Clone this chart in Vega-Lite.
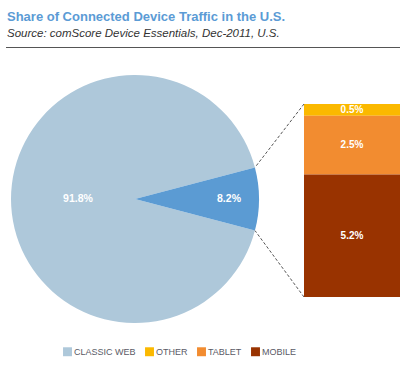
{
  "$schema": "https://vega.github.io/schema/vega-lite/v6.json",
  "width": 407,
  "height": 327,
  "autosize": "none",
  "padding": {"left": 0, "right": 0, "top": 44, "bottom": 0},
  "background": "white",
  "config": {"view": {"stroke": null}, "font": "Liberation Sans"},
  "title": {
    "text": "Share of Connected Device Traffic in the U.S.",
    "subtitle": "Source: comScore Device Essentials, Dec-2011, U.S.",
    "anchor": "start",
    "frame": "group",
    "dx": 7,
    "offset": 5,
    "font": "Liberation Sans",
    "fontSize": 13,
    "fontWeight": "bold",
    "color": "#5b9bd5",
    "subtitleFont": "Liberation Sans",
    "subtitleFontSize": 11.5,
    "subtitleFontStyle": "italic",
    "subtitleColor": "#333333",
    "subtitlePadding": 4
  },
  "layer": [
    {
      "data": {"values": [{}]},
      "mark": {"type": "rule", "color": "#555555", "strokeWidth": 1},
      "encoding": {"x": {"value": 6}, "x2": {"value": 400}, "y": {"value": 3.5}}
    },
    {
      "data": {"values": [
        {"segment": "CLASSIC WEB", "value": 91.8, "label": "91.8%"},
        {"segment": "CONNECTED", "value": 8.2, "label": "8.2%"}
      ]},
      "mark": {"type": "arc", "radius": 124},
      "encoding": {
        "theta": {"field": "value", "type": "quantitative", "stack": true, "scale": {"range": [1.3132, 7.5964]}},
        "order": {"field": "value", "sort": "ascending"},
        "x": {"value": 135},
        "y": {"value": 155},
        "color": {
          "field": "segment", "type": "nominal",
          "scale": {
            "domain": ["CLASSIC WEB", "CONNECTED", "OTHER", "TABLET", "MOBILE"],
            "range": ["#aec8da", "#5b9bd3", "#fbb900", "#f28c30", "#993300"]
          },
          "legend": {
            "values": ["CLASSIC WEB", "OTHER", "TABLET", "MOBILE"],
            "title": null,
            "orient": "none",
            "direction": "horizontal",
            "legendX": 63,
            "legendY": 303,
            "symbolType": "square",
            "symbolSize": 80,
            "symbolStrokeWidth": 0,
            "labelFont": "Liberation Sans",
            "labelFontSize": 9,
            "labelColor": "#5a5a66",
            "labelOffset": 2,
            "columnPadding": 9,
            "padding": 0
          }
        }
      }
    },
    {
      "data": {"values": [{"label": "91.8%"}]},
      "mark": {"type": "text", "color": "white", "fontWeight": "bold", "fontSize": 10.5, "baseline": "middle", "align": "center"},
      "encoding": {"x": {"value": 78}, "y": {"value": 155}, "text": {"field": "label"}}
    },
    {
      "data": {"values": [{"label": "8.2%"}]},
      "mark": {"type": "text", "color": "white", "fontWeight": "bold", "fontSize": 10.5, "baseline": "middle", "align": "center"},
      "encoding": {"x": {"value": 229}, "y": {"value": 155}, "text": {"field": "label"}}
    },
    {
      "data": {"values": [
        {"segment": "OTHER", "value": 0.5, "label": "0.5%"},
        {"segment": "TABLET", "value": 2.5, "label": "2.5%"},
        {"segment": "MOBILE", "value": 5.2, "label": "5.2%"}
      ]},
      "transform": [
        {"stack": "value", "groupby": [], "sort": [{"field": "value", "order": "descending"}], "as": ["v0", "v1"]}
      ],
      "layer": [
        {
          "mark": {"type": "bar", "orient": "vertical"},
          "encoding": {
            "x": {"value": 304},
            "x2": {"value": 400},
            "y": {"field": "v0", "type": "quantitative", "axis": null,
                  "scale": {"domain": [0, 8.2], "range": [253, 60], "nice": false, "zero": true}},
            "y2": {"field": "v1"},
            "color": {"field": "segment", "type": "nominal"}
          }
        },
        {
          "mark": {"type": "text", "color": "white", "fontWeight": "bold", "fontSize": 10, "baseline": "middle", "align": "center"},
          "encoding": {
            "x": {"value": 352},
            "y": {"field": "value", "type": "quantitative", "stack": "zero", "bandPosition": 0.5},
            "order": {"field": "value", "sort": "descending"},
            "text": {"field": "label"}
          }
        }
      ]
    },
    {
      "data": {"values": [{"edge": 8.2}]},
      "mark": {"type": "rule", "color": "#555555", "strokeWidth": 1, "strokeDash": [3, 2]},
      "encoding": {"x": {"value": 304}, "x2": {"value": 255}, "y": {"field": "edge", "type": "quantitative"}, "y2": {"value": 123.4}}
    },
    {
      "data": {"values": [{"edge": 0}]},
      "mark": {"type": "rule", "color": "#555555", "strokeWidth": 1, "strokeDash": [3, 2]},
      "encoding": {"x": {"value": 304}, "x2": {"value": 255}, "y": {"field": "edge", "type": "quantitative"}, "y2": {"value": 186.6}}
    }
  ]
}
